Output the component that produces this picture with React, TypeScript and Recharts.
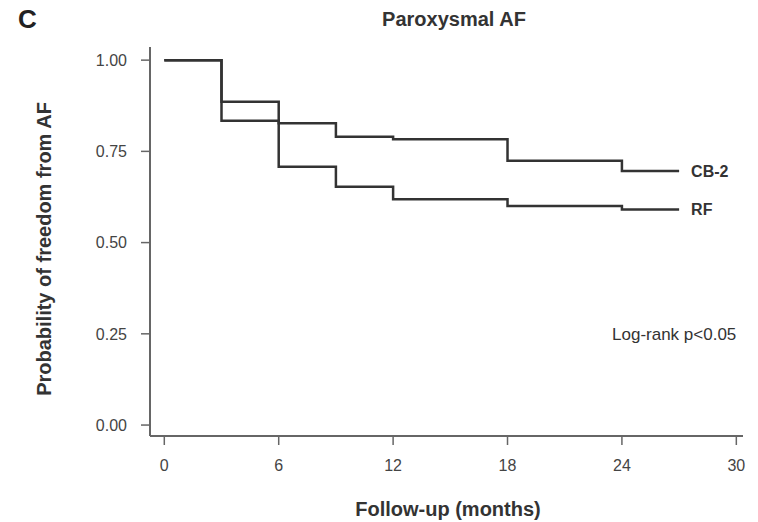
import React from 'react';
import { LineChart, Line, XAxis, YAxis, ReferenceDot } from 'recharts';

const months = [0, 3, 6, 9, 12, 18, 24, 27];
const cb2 = [1.0, 0.886, 0.827, 0.79, 0.783, 0.724, 0.696, 0.696];
const rf = [1.0, 0.834, 0.708, 0.653, 0.619, 0.6, 0.591, 0.591];
const xTicks = [0, 6, 12, 18, 24, 30];
const yTicks = [0, 0.25, 0.5, 0.75, 1.0];

const data = months.map((m, i) => ({ month: m, cb2: cb2[i], rf: rf[i] }));

const FONT = '"Liberation Sans", Arial, sans-serif';
const INK = '#333';
const AXIS = '#666';

const endLabel = (text: string) => (props: any) => {
  const { x, y, index } = props;
  if (index !== data.length - 1) return null;
  return (
    <text x={x + 12} y={y} dy="0.36em" fontFamily={FONT} fontWeight="bold" fontSize={16} fill={INK}>
      {text}
    </text>
  );
};

const App: React.FC = () => {
  return (
    <div style={{ position: 'absolute', left: 0, top: 0, width: 758, height: 522, background: '#fff', fontFamily: FONT }}>
      <div style={{ position: 'absolute', left: 18, top: 6, fontSize: 26, lineHeight: 1, fontWeight: 'bold', color: '#222' }}>C</div>
      <div
        style={{
          position: 'absolute',
          left: 0,
          width: 908,
          top: 9,
          textAlign: 'center',
          fontSize: 20,
          lineHeight: 1,
          fontWeight: 'bold',
          color: INK,
        }}
      >
        Paroxysmal AF
      </div>
      <LineChart width={758} height={522} data={data} margin={{ top: 47, right: 15, bottom: 0, left: 0 }}>
        <XAxis
          dataKey="month"
          type="number"
          height={86}
          domain={[-0.75, 30.35]}
          ticks={xTicks}
          allowDataOverflow
          tick={{ fontSize: 16, fill: '#444', fontFamily: FONT }}
          tickSize={9}
          tickMargin={15}
          axisLine={{ stroke: AXIS, strokeWidth: 2 }}
          tickLine={{ stroke: AXIS, strokeWidth: 1.5 }}
          label={{
            content: (p: any) => (
              <text
                x={448}
                y={509}
                textAnchor="middle"
                dominantBaseline="central"
                fontFamily={FONT}
                fontWeight="bold"
                fontSize={20}
                fill={INK}
              >
                Follow-up (months)
              </text>
            ),
          }}
        />
        <YAxis
          type="number"
          width={150}
          domain={[-0.03, 1.036]}
          ticks={yTicks}
          allowDataOverflow
          tickFormatter={(v: number) => v.toFixed(2)}
          tick={{ fontSize: 16, fill: '#444', fontFamily: FONT }}
          tickSize={9}
          tickMargin={14}
          axisLine={{ stroke: AXIS, strokeWidth: 2 }}
          tickLine={{ stroke: AXIS, strokeWidth: 1.5 }}
          label={{
            content: () => (
              <text
                x={44}
                y={249}
                transform="rotate(-90 44 249)"
                textAnchor="middle"
                dominantBaseline="central"
                fontFamily={FONT}
                fontWeight="bold"
                fontSize={20}
                fill={INK}
              >
                Probability of freedom from AF
              </text>
            ),
          }}
        />
        <Line
          type="stepAfter"
          dataKey="cb2"
          stroke={INK}
          strokeWidth={2.5}
          dot={false}
          isAnimationActive={false}
          label={endLabel('CB-2')}
        />
        <Line
          type="stepAfter"
          dataKey="rf"
          stroke={INK}
          strokeWidth={2.5}
          dot={false}
          isAnimationActive={false}
          label={endLabel('RF')}
        />
        <ReferenceDot
          x={30}
          y={0.25}
          r={0}
          fill="none"
          stroke="none"
          label={{
            content: (p: any) => (
              <text
                x={p.viewBox.x + p.viewBox.width / 2}
                y={p.viewBox.y + p.viewBox.height / 2}
                dy="0.36em"
                textAnchor="end"
                fontFamily={FONT}
                fontSize={17}
                fill={INK}
              >
                Log-rank p&lt;0.05
              </text>
            ),
          }}
        />
      </LineChart>
    </div>
  );
};

export default App;
